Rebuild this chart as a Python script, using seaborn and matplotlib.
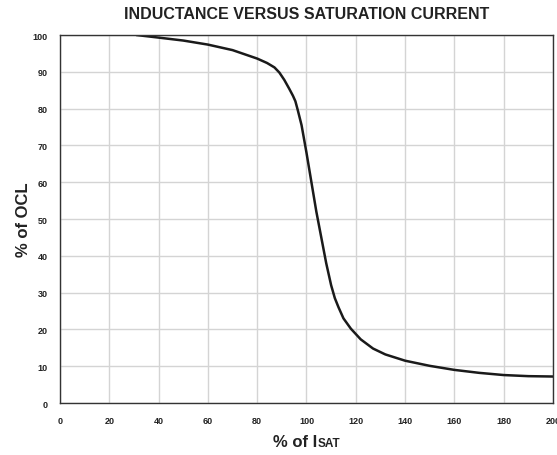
import numpy as np
import pandas as pd
import seaborn as sns
import matplotlib
matplotlib.use("Agg")
import matplotlib.pyplot as plt
from matplotlib.offsetbox import TextArea, HPacker, AnnotationBbox

# curve
isat_pct = [31, 40, 50, 60, 70, 80, 84, 87, 89, 91, 93, 94.5, 95.5, 96.5, 98, 100, 102, 104, 106,
            108, 110, 111.5, 113, 115, 118, 122, 127, 132, 140, 150, 160, 170, 180, 190, 200]
ocl_pct = [100, 99.3, 98.5, 97.4, 95.9, 93.6, 92.4, 91.2, 89.8, 87.8, 85.4, 83.5, 82.0, 79.5, 75.5, 68, 60, 52, 45,
           38, 32, 28.5, 26, 23, 20.2, 17.3, 14.8, 13.2, 11.5, 10.1, 9.0, 8.2, 7.6, 7.3, 7.2]

x_ticks = list(range(0, 201, 20))
y_ticks = list(range(0, 101, 10))

df = pd.DataFrame({"isat": isat_pct, "ocl": ocl_pct})

sns.set_style("white")
plt.rcParams["font.family"] = ["Liberation Sans", "DejaVu Sans"]

fig = plt.figure(figsize=(5.57, 4.56), dpi=100)
ax = fig.add_axes([0.1077, 0.114, 0.8851, 0.807])

sns.lineplot(data=df, x="isat", y="ocl", color="#1a1a1a", linewidth=1.8, ax=ax)

ax.set_xlim(0, 200)
ax.set_ylim(0, 100)
ax.set_xticks(x_ticks)
ax.set_yticks(y_ticks)
ax.tick_params(length=0, labelsize=6.5, pad=9)
for lab in ax.get_xticklabels() + ax.get_yticklabels():
    lab.set_fontweight("bold")
    lab.set_color("#222222")
ax.grid(True, color="#d4d4d4", linewidth=1.0)
for s in ax.spines.values():
    s.set_color("#333333")
    s.set_linewidth(1.0)

ax.set_title("INDUCTANCE VERSUS SATURATION CURRENT", fontsize=11.5, fontweight="bold",
             color="#222222", pad=12)
ax.set_ylabel("% of OCL", fontsize=12, fontweight="bold", color="#222222", labelpad=1)
ax.set_xlabel("")

# x label with small "SAT"
t1 = TextArea("% of I", textprops=dict(size=12, weight="bold", color="#222222"))
t2 = TextArea("SAT", textprops=dict(size=8.5, weight="bold", color="#222222"))
box = HPacker(children=[t1, t2], align="baseline", pad=0, sep=0)
ab = AnnotationBbox(box, (0.5, -0.105), xycoords="axes fraction", frameon=False,
                    box_alignment=(0.5, 0.5))
ax.add_artist(ab)

fig.savefig("out.png", dpi=100)
